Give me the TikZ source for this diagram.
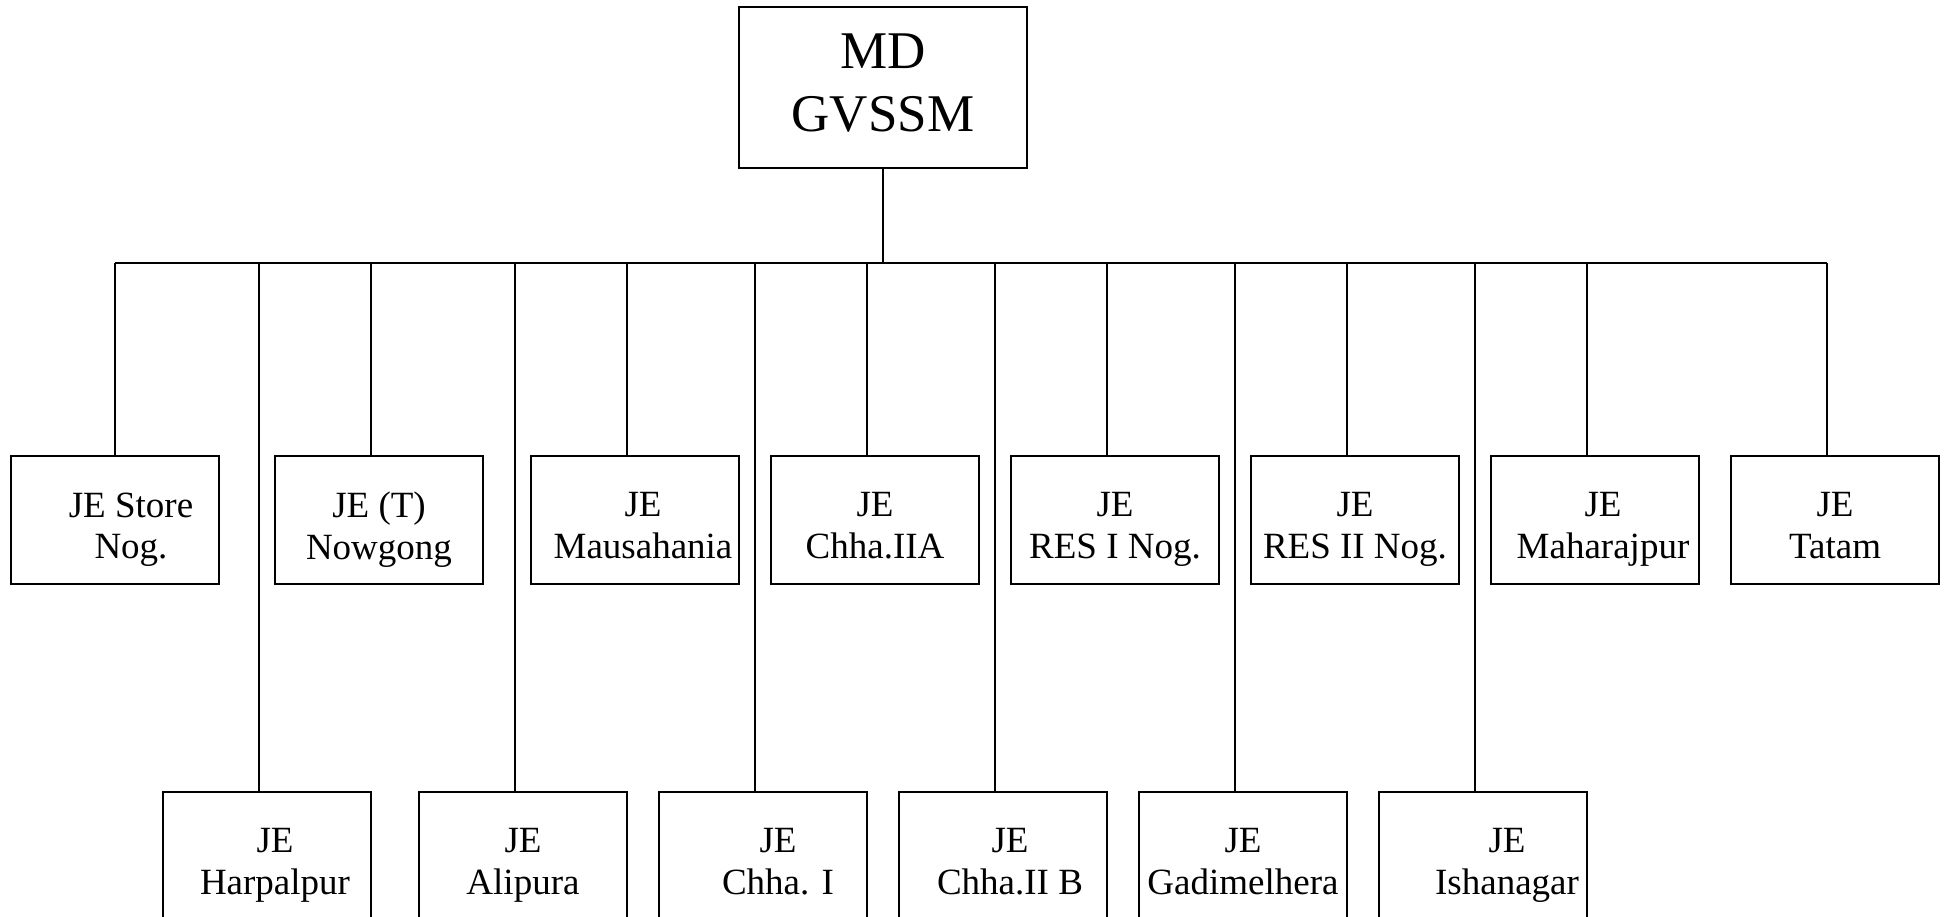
\documentclass[tikz,border=0pt]{standalone}
\usepackage{fontspec}
\setmainfont{Liberation Serif}
\usetikzlibrary{calc, positioning}

\begin{document}
\begin{tikzpicture}[x=1pt, y=-1pt, line width=2.2pt,
    every node/.style={inner sep=0pt, outer sep=0pt},
    jebox/.style={draw, rectangle, minimum width=208pt, minimum height=128pt},
    mdbox/.style={draw, rectangle, minimum width=288pt, minimum height=161pt},
    jetext/.style={align=center, font=\fontsize{37}{41.5}\selectfont, text depth=0pt},
    mdtext/.style={align=center, font=\fontsize{53}{63}\selectfont, text depth=0pt}]

    \useasboundingbox (0, 0) rectangle (1948, 917);

    % managing director
    \node[mdbox] (md) at (883, 87.5) {};
    \node[mdtext] (md-txt) at ($ (md) + (0, -5) $) {MD\\GVSSM};

    % bus
    \coordinate (bus) at (883, 263);
    \coordinate (busL) at (115, 263);
    \coordinate (busR) at (1827, 263);
    \draw (md.south) -- (bus);
    \draw (busL) -- (busR);

    % upper row
    \foreach \name/\cx/\dx/\sx/\txt in {
        je1/115/16/0/{JE Store\\Nog.},
        je2/379/0/-8/{JE (T)\\Nowgong},
        je3/635/8/-8/{JE\\Mausahania},
        je4/875/0/-8/{JE\\Chha.IIA},
        je5/1115/0/-8/{JE\\RES I Nog.},
        je6/1355/0/-8/{JE\\RES II Nog.},
        je7/1595/8/-8/{JE\\Maharajpur},
        je8/1835/0/-8/{JE\\Tatam}}
    {
        \node[jebox] (\name) at (\cx, 520) {};
        \node[jetext] (\name-txt) at ($ (\name) + (\dx, 5.5) $) {\txt};
        \coordinate (\name-s) at ($ (\name.north) + (\sx, 0) $);
        \draw (\name-s) -- (\name-s |- bus);
    }

    % lower row
    \foreach \name/\cx/\dx/\txt in {
        jf1/267/8/{JE\\Harpalpur},
        jf2/523/0/{JE\\Alipura},
        jf3/763/15/{JE\\Chha. I},
        jf4/1003/7/{JE\\Chha.II B},
        jf5/1243/0/{JE\\Gadimelhera},
        jf6/1483/24/{JE\\Ishanagar}}
    {
        \node[jebox] (\name) at (\cx, 856) {};
        \node[jetext] (\name-txt) at ($ (\name) + (\dx, 5.5) $) {\txt};
        \coordinate (\name-s) at ($ (\name.north) + (-8, 0) $);
        \draw (\name-s) -- (\name-s |- bus);
    }

\end{tikzpicture}
\end{document}
